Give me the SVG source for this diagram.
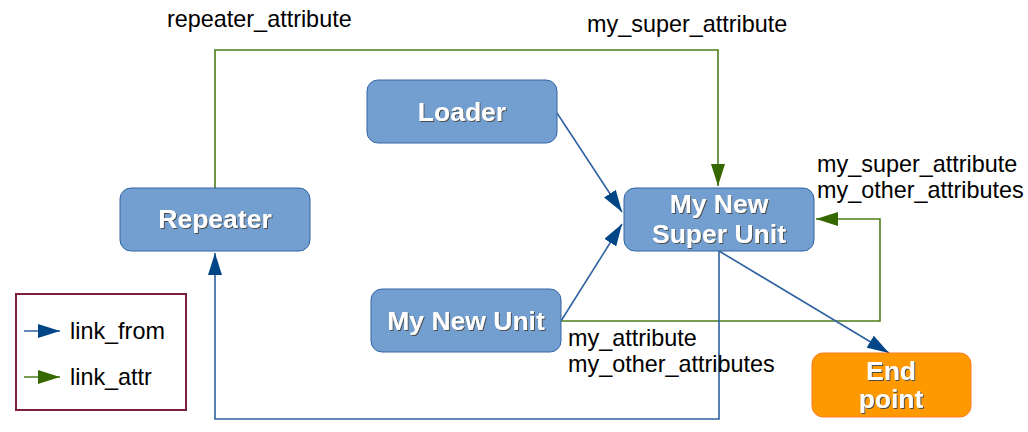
<svg xmlns="http://www.w3.org/2000/svg" width="1028" height="432" viewBox="0 0 1028 432">
<defs>
<style>
.node{fill:#729fcf;stroke:#3465a4;stroke-width:1}
.end{fill:#ff9900;stroke:#ff7b1a;stroke-width:1}
.nt{font-family:"Liberation Sans",Arial,sans-serif;font-weight:bold;font-size:26.5px;text-anchor:middle;fill:#ffffff;filter:url(#sh)}
.lbl{font-family:"Liberation Sans",Arial,sans-serif;font-size:23.4px;fill:#000000}
.blue{fill:none;stroke:#2f62a0;stroke-width:1.6}
.green{fill:none;stroke:#4c7d17;stroke-width:1.6}
</style>
<filter id="sh" x="-10%" y="-20%" width="120%" height="140%">
<feOffset in="SourceAlpha" dx="1" dy="1" result="o"/>
<feColorMatrix in="o" type="matrix" values="0 0 0 0 0.07  0 0 0 0 0.07  0 0 0 0 0.07  0 0 0 1 0" result="s"/>
<feMerge><feMergeNode in="s"/><feMergeNode in="SourceGraphic"/></feMerge>
</filter>
<marker id="abl" viewBox="0 0 22 14" refX="22" refY="7" markerWidth="22" markerHeight="14" markerUnits="userSpaceOnUse" orient="auto">
<path d="M0,0 L22,7 L0,14 Z" fill="#004586"/>
</marker>
<marker id="agl" viewBox="0 0 22 14" refX="22" refY="7" markerWidth="22" markerHeight="14" markerUnits="userSpaceOnUse" orient="auto">
<path d="M0,0 L22,7 L0,14 Z" fill="#356900"/>
</marker>
</defs>
<rect width="1028" height="432" fill="#ffffff"/>
<g id="connectors">
<path class="green" d="M215,188 V50 H718 V186" marker-end="url(#agl)"/>
<path class="blue" d="M557,113 L622,212" marker-end="url(#abl)"/>
<path class="blue" d="M561,321 L622,224" marker-end="url(#abl)"/>
<path class="green" d="M561,321 H880 V219 H816" marker-end="url(#agl)"/>
<path class="blue" d="M719,251 V419 H215 V253" marker-end="url(#abl)"/>
<path class="blue" d="M719,251 L889,353" marker-end="url(#abl)"/>
<text class="lbl" x="167" y="27">repeater_attribute</text>
<text class="lbl" x="587" y="32">my_super_attribute</text>
<text class="lbl" x="817" y="172">my_super_attribute</text>
<text class="lbl" x="817" y="198">my_other_attributes</text>
<text class="lbl" x="568" y="346">my_attribute</text>
<text class="lbl" x="568" y="372">my_other_attributes</text>
</g>
<g id="repeater">
<rect class="node" x="120" y="188" width="190" height="63" rx="11"/>
<text class="nt" x="215" y="228">Repeater</text>
</g>
<g id="loader">
<rect class="node" x="367" y="80" width="190" height="63" rx="11"/>
<text class="nt" x="462" y="121">Loader</text>
</g>
<g id="super-unit">
<rect class="node" x="624" y="188" width="190" height="63" rx="11"/>
<text class="nt" x="719" y="213">My New</text>
<text class="nt" x="719" y="243">Super Unit</text>
</g>
<g id="new-unit">
<rect class="node" x="371" y="289" width="190" height="63" rx="11"/>
<text class="nt" x="466" y="330">My New Unit</text>
</g>
<g id="end-point">
<rect class="end" x="812" y="353" width="159" height="64" rx="11"/>
<text class="nt" x="891" y="380">End</text>
<text class="nt" x="891" y="408">point</text>
</g>
<g id="legend">
<rect x="16" y="294" width="170" height="116" fill="#ffffff" stroke="#7f1f3f" stroke-width="2"/>
<path d="M24,331 H60" stroke="#2f62a0" stroke-width="1.6" marker-end="url(#abl)"/>
<path d="M24,377 H60" stroke="#4c7d17" stroke-width="1.6" marker-end="url(#agl)"/>
<text class="lbl" x="70" y="339">link_from</text>
<text class="lbl" x="70" y="385">link_attr</text>
</g>
</svg>
